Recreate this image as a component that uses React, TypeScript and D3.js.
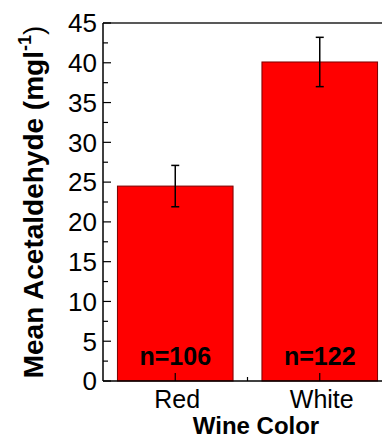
import React from 'react';
import { scaleLinear, range } from 'd3';

const categories = ['Red', 'White'];
const means = [24.5, 40.1];
const errors = [2.6, 3.1];
const counts = ['n=106', 'n=122'];
const yTicks = [0, 5, 10, 15, 20, 25, 30, 35, 40, 45];

const W = 382;
const H = 443;
const font = '"Liberation Sans", Arial, sans-serif';

const App = () => {
  // x in Origin-style units: categories sit at 1, 2
  const x = scaleLinear().domain([0.5, 2.5]).range([103, 392]);
  const y = scaleLinear().domain([0, 45]).range([381, 23]);
  const barW = x(1.8) - x(1);
  const minor = range(2.5, 45, 5);

  return (
    <svg width={W} height={H} style={{ position: 'absolute', left: 0, top: 0 }} fontFamily={font}>
      <rect width={W} height={H} fill="#fff" />
      {/* bars */}
      {means.map((m, i) => (
        <rect
          key={categories[i]}
          x={x(i + 1) - barW / 2}
          y={y(m)}
          width={barW}
          height={y(0) - y(m)}
          fill="#ff0000"
          stroke="#7a0000"
          strokeWidth={1}
        />
      ))}
      {/* error bars */}
      {means.map((m, i) => {
        const cx = x(i + 1);
        return (
          <g key={'e' + i} stroke="#000" strokeWidth={1.5}>
            <line x1={cx} x2={cx} y1={y(m + errors[i])} y2={y(m - errors[i])} />
            <line x1={cx - 4} x2={cx + 4} y1={y(m + errors[i])} y2={y(m + errors[i])} />
            <line x1={cx - 4} x2={cx + 4} y1={y(m - errors[i])} y2={y(m - errors[i])} />
          </g>
        );
      })}
      {/* n labels */}
      {counts.map((c, i) => (
        <text key={c} x={x(i + 1)} y={365} textAnchor="middle" fontWeight="bold" fontSize={25}>
          {c}
        </text>
      ))}
      {/* frame */}
      <line x1={x(0.5)} x2={x(2.5)} y1={y(45)} y2={y(45)} stroke="#222" strokeWidth={1.5} />
      <line x1={x(0.5)} x2={x(2.5)} y1={y(0)} y2={y(0)} stroke="#000" strokeWidth={1.5} />
      <line x1={x(0.5)} x2={x(0.5)} y1={y(0)} y2={y(45)} stroke="#000" strokeWidth={1.5} />
      {/* y ticks */}
      {yTicks.map(t => (
        <g key={t}>
          <line x1={x(0.5)} x2={x(0.5) + 8} y1={y(t)} y2={y(t)} stroke="#000" strokeWidth={1.2} />
          <text x={97} y={y(t)} dy="0.36em" textAnchor="end" fontSize={26}>
            {t}
          </text>
        </g>
      ))}
      {minor.map(t => (
        <line key={'m' + t} x1={x(0.5)} x2={x(0.5) + 5} y1={y(t)} y2={y(t)} stroke="#000" strokeWidth={1.2} />
      ))}
      {/* x ticks */}
      {[1, 1.5, 2].map(t => (
        <line key={'x' + t} x1={x(t)} x2={x(t)} y1={y(0)} y2={y(0) - (t % 1 ? 4 : 8)} stroke="#000" strokeWidth={1.2} />
      ))}
      {categories.map((c, i) => (
        <text key={c} x={x(i + 1) + 2} y={408} textAnchor="middle" fontSize={25}>
          {c}
        </text>
      ))}
      <text x={256} y={434} textAnchor="middle" fontWeight="bold" fontSize={24}>
        Wine Color
      </text>
      <text transform={`translate(43,${y(22.5)}) rotate(-90)`} textAnchor="middle" fontWeight="bold" fontSize={28}>
        Mean Acetaldehyde (mgl
        <tspan fontSize={18} dy={-12}>-1</tspan>
        <tspan fontWeight="normal" dy={12}>)</tspan>
      </text>
    </svg>
  );
};

export default App;
